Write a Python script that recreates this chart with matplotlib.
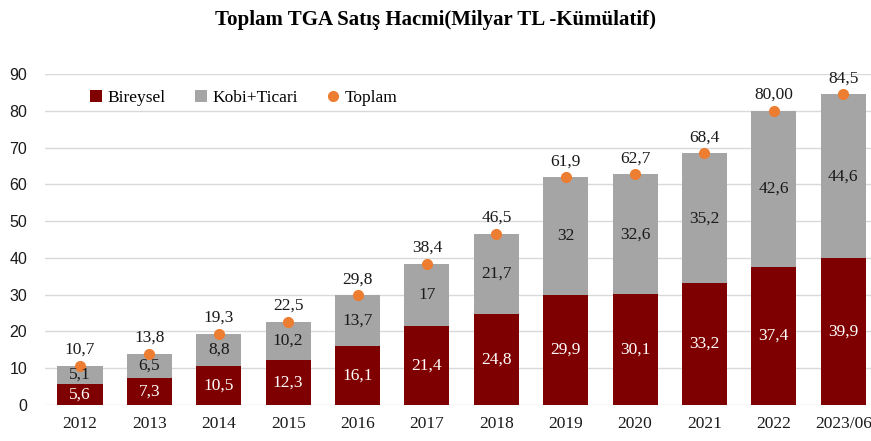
import matplotlib.pyplot as plt
import numpy as np

years = ['2012', '2013', '2014', '2015', '2016', '2017', '2018',
         '2019', '2020', '2021', '2022', '2023/06']
bireysel = [5.6, 7.3, 10.5, 12.3, 16.1, 21.4, 24.8, 29.9, 30.1, 33.2, 37.4, 39.9]
kobi = [5.1, 6.5, 8.8, 10.2, 13.7, 17.0, 21.7, 32.0, 32.6, 35.2, 42.6, 44.6]
toplam = [10.7, 13.8, 19.3, 22.5, 29.8, 38.4, 46.5, 61.9, 62.7, 68.4, 80.0, 84.5]
bireysel_lbl = ['5,6', '7,3', '10,5', '12,3', '16,1', '21,4', '24,8', '29,9', '30,1', '33,2', '37,4', '39,9']
kobi_lbl = ['5,1', '6,5', '8,8', '10,2', '13,7', '17', '21,7', '32', '32,6', '35,2', '42,6', '44,6']
toplam_lbl = ['10,7', '13,8', '19,3', '22,5', '29,8', '38,4', '46,5', '61,9', '62,7', '68,4', '80,00', '84,5']

RED = '#7F0000'
GRAY = '#A5A5A5'
ORANGE = '#ED7D31'
SERIF = 'Liberation Serif'

fig = plt.figure(figsize=(8.71, 4.41), dpi=100)
ax = fig.add_axes([0.052, 0.082, 0.952, 0.750])

x = np.arange(len(years))
w = 0.65
b1 = ax.bar(x, bireysel, w, color=RED, label='Bireysel', zorder=2)
b2 = ax.bar(x, kobi, w, bottom=bireysel, color=GRAY, label='Kobi+Ticari', zorder=2)
p, = ax.plot(x, toplam, 'o', color=ORANGE, markersize=7, label='Toplam', zorder=3)

for i in range(len(x)):
    ax.text(x[i], bireysel[i] / 2, bireysel_lbl[i], ha='center', va='center',
            color='white', fontsize=12.5, family=SERIF, zorder=4)
    ax.text(x[i], bireysel[i] + kobi[i] / 2, kobi_lbl[i], ha='center', va='center',
            color='#1a1a1a', fontsize=12.5, family=SERIF, zorder=4)
    ax.text(x[i], toplam[i] + 2.2, toplam_lbl[i], ha='center', va='bottom',
            color='#1a1a1a', fontsize=12.5, family=SERIF, zorder=4)

ax.set_xlim(-0.5, 11.45)
ax.set_ylim(0, 90)
ax.set_yticks(range(0, 91, 10))
ax.set_xticks(x)
ax.set_xticklabels(years, family=SERIF, fontsize=12.5)
for t in ax.get_yticklabels():
    t.set_family('Liberation Sans')
    t.set_fontsize(11.5)
ax.tick_params(axis='y', length=0, pad=13, colors='#1a1a1a')
ax.tick_params(axis='x', length=0, pad=8, colors='#1a1a1a')
ax.grid(axis='y', color='#D9D9D9', linewidth=1, zorder=0)
for s in ax.spines.values():
    s.set_visible(False)

ax.legend([b1, b2, p], ['Bireysel', 'Kobi+Ticari', 'Toplam'],
          loc='upper left', bbox_to_anchor=(0.035, 1.0), ncol=3, frameon=False,
          prop={'family': SERIF, 'size': 12.5}, handlelength=0.7, handletextpad=0.3,
          columnspacing=1.7)

fig.text(0.5, 0.955, 'Toplam TGA Satış Hacmi(Milyar TL -Kümülatif)', ha='center', va='center',
         family=SERIF, fontsize=15, fontweight='bold')

plt.savefig('out.png', dpi=100)
